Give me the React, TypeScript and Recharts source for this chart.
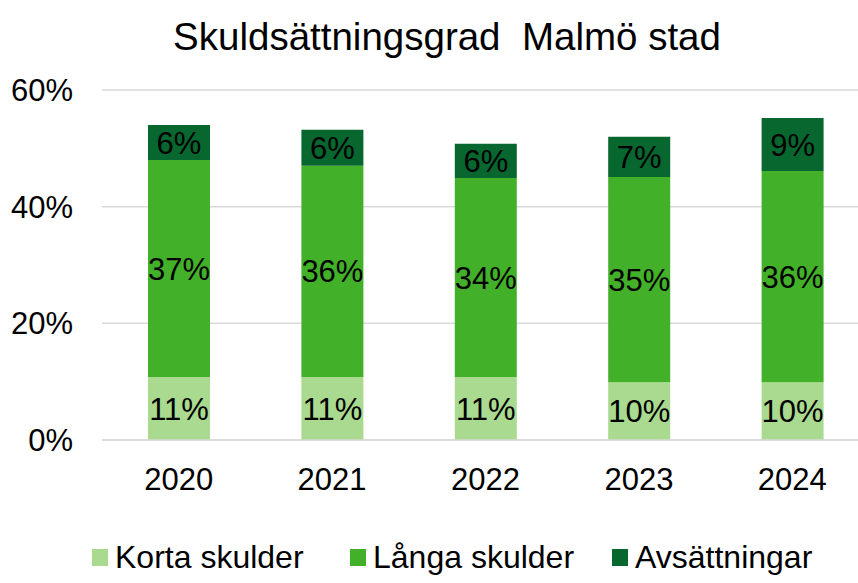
import React from 'react';
import { BarChart, Bar, XAxis, YAxis, CartesianGrid, Legend, LabelList } from 'recharts';

// Values in percent
const years = ['2020', '2021', '2022', '2023', '2024'];
const kortaSkulder = [10.8, 10.8, 10.8, 9.9, 9.9];
const langaSkulder = [37.2, 36.2, 34.1, 35.2, 36.2];
const avsattningar = [6.0, 6.2, 5.9, 6.9, 9.1];
const yTicks = [0, 20, 40, 60];

const seriesNames = ['Korta skulder', 'Långa skulder', 'Avsättningar'];
const seriesColors = ['#a9da8f', '#43b02a', '#08662f'];
const legendLeft = [92, 350, 612];

const data = years.map((year, i) => ({
  year,
  korta: kortaSkulder[i],
  langa: langaSkulder[i],
  avs: avsattningar[i],
}));

const FONT = '"Liberation Sans", Arial, sans-serif';

const pct = (v: any) => `${Math.round(Number(v))}%`;

const renderLegend = () => (
  <div style={{ position: 'relative', height: 80, fontFamily: FONT, fontSize: 32, color: '#000' }}>
    {seriesNames.map((name, i) => (
      <div key={name} style={{ position: 'absolute', left: legendLeft[i], top: 37, display: 'flex', alignItems: 'center', whiteSpace: 'nowrap' }}>
        <span style={{ width: 16, height: 17, background: seriesColors[i], marginRight: 7, display: 'inline-block' }} />
        <span style={{ lineHeight: '34px' }}>{name}</span>
      </div>
    ))}
  </div>
);

export default function App() {
  return (
    <div style={{ position: 'fixed', left: 0, top: 0, width: 858, height: 583, overflow: 'hidden', background: '#fff' }}>
      <div
        style={{
          position: 'absolute',
          left: 0,
          top: 15,
          width: 894,
          textAlign: 'center',
          fontFamily: FONT,
          fontSize: 38.5,
          whiteSpace: 'pre',
          color: '#000',
        }}
      >
        {'Skuldsättningsgrad  Malmö stad'}
      </div>
      <BarChart
        width={880}
        height={583}
        data={data}
        margin={{ top: 90, right: 11, left: 0, bottom: 0 }}
        style={{ fontFamily: FONT }}
      >
        <CartesianGrid vertical={false} stroke="#d9d9d9" strokeWidth={1.5} />
        <XAxis
          dataKey="year"
          axisLine={{ stroke: '#d9d9d9', strokeWidth: 1.5 }}
          tickLine={false}
          tickSize={0}
          tickMargin={28}
          height={63}
          tick={{ fill: '#000', fontSize: 31 }}
        />
        <YAxis
          domain={[0, 60]}
          ticks={yTicks}
          tickFormatter={(v) => `${v}%`}
          axisLine={false}
          tickLine={false}
          tickSize={0}
          tickMargin={29}
          width={102}
          tick={{ fill: '#000', fontSize: 31 }}
        />
        <Legend verticalAlign="bottom" height={80} content={renderLegend} />
        <Bar dataKey="korta" name={seriesNames[0]} stackId="a" fill={seriesColors[0]} barSize={62} isAnimationActive={false}>
          <LabelList dataKey="korta" position="center" formatter={pct} fill="#000" fontSize={31} />
        </Bar>
        <Bar dataKey="langa" name={seriesNames[1]} stackId="a" fill={seriesColors[1]} barSize={62} isAnimationActive={false}>
          <LabelList dataKey="langa" position="center" formatter={pct} fill="#000" fontSize={31} />
        </Bar>
        <Bar dataKey="avs" name={seriesNames[2]} stackId="a" fill={seriesColors[2]} barSize={62} isAnimationActive={false}>
          <LabelList dataKey="avs" position="center" formatter={pct} fill="#000" fontSize={31} />
        </Bar>
      </BarChart>
    </div>
  );
}
